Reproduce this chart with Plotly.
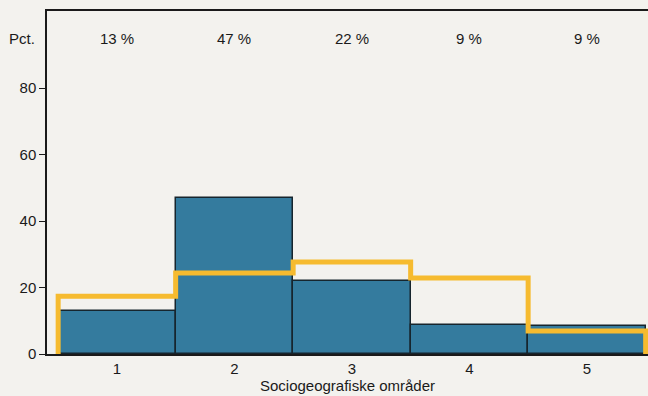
import plotly.graph_objects as go

# sociogeographic areas and shares
omraader = [1, 2, 3, 4, 5]
andel = [13, 47, 22, 8.6, 8.4]
andel_tekst = ["13 %", "47 %", "22 %", "9 %", "9 %"]
# reference distribution (yellow step line)
reference = [17.4, 24.4, 27.7, 22.9, 6.9]

bg = "#f3f2ee"
font = dict(family="Liberation Sans, Arial, sans-serif", size=15, color="#1a1a1a")

fig = go.Figure()
fig.add_trace(go.Bar(
    x=omraader, y=andel, width=1,
    marker=dict(color="#347b9e", line=dict(color="#16252d", width=1.5)),
    showlegend=False, hoverinfo="skip",
))

# build step outline from bar edges
step_x = [omraader[0] - 0.5]
step_y = [0]
for o, r in zip(omraader, reference):
    step_x.append(o - 0.5)
    step_y.append(r)
step_x += [omraader[-1] + 0.5, omraader[-1] + 0.5]
step_y += [reference[-1], 0]

fig.add_trace(go.Scatter(
    x=step_x, y=step_y, mode="lines", line=dict(color="#f6bb2f", width=5, shape="hv"),
    showlegend=False, hoverinfo="skip",
))

for o, t in zip(omraader, andel_tekst):
    fig.add_annotation(x=o, y=95, text=t, showarrow=False, font=font)
fig.add_annotation(x=-0.017, xref="paper", xanchor="right", y=95, text="Pct.",
                   showarrow=False, font=font)

fig.update_layout(
    width=648, height=396,
    margin=dict(l=47, r=0, t=11, b=42),
    paper_bgcolor=bg, plot_bgcolor=bg,
    font=font, bargap=0,
    xaxis=dict(range=[0.405, 5.52], tickvals=omraader, showgrid=False, zeroline=False,
               showline=True, mirror=True, linecolor="#1a1a1a", linewidth=1.5,
               ticks="", tickfont=dict(size=15),
               title=dict(text="Sociogeografiske områder", font=dict(size=15), standoff=2)),
    yaxis=dict(range=[0, 103.2], tickvals=[0, 20, 40, 60, 80], showgrid=False, zeroline=False,
               showline=True, linecolor="#1a1a1a", linewidth=1.5, tickfont=dict(size=15),
               ticks="outside", ticklen=6, tickcolor="#1a1a1a"),
)

# drop the default page margin so the figure sits at the window's corner
fig.write_html("out.html", config={"displayModeBar": False},
               post_script="document.body.style.margin='0';")
